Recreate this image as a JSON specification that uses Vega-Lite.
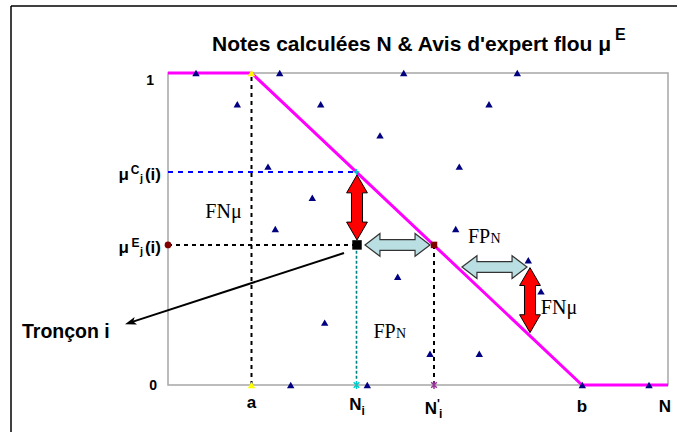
{
  "$schema": "https://vega.github.io/schema/vega-lite/v6.json",
  "width": 500,
  "height": 312,
  "autosize": {"type": "none"},
  "padding": {"left": 168, "top": 73, "right": 9, "bottom": 47},
  "background": "white",
  "config": {"view": {"stroke": "#a6a6a6", "strokeWidth": 1.5}, "font": "Liberation Sans"},
  "datasets": {
    "curve": [{"x": 0, "y": 1}, {"x": 8.35, "y": 1}, {"x": 41.4, "y": 0}, {"x": 50, "y": 0}],
    "tri": [
      {"x": 2.8, "y": 1}, {"x": 11.17, "y": 1}, {"x": 23.57, "y": 1}, {"x": 34.93, "y": 1},
      {"x": 6.93, "y": 0.9}, {"x": 15.27, "y": 0.9}, {"x": 32.1, "y": 0.9},
      {"x": 21.2, "y": 0.8},
      {"x": 10.0, "y": 0.7}, {"x": 29.13, "y": 0.7},
      {"x": 14.43, "y": 0.6},
      {"x": 10.73, "y": 0.5}, {"x": 28.77, "y": 0.5},
      {"x": 36.03, "y": 0.4},
      {"x": 22.97, "y": 0.347},
      {"x": 37.3, "y": 0.3},
      {"x": 15.67, "y": 0.2},
      {"x": 26.2, "y": 0.1}, {"x": 31.13, "y": 0.1},
      {"x": 12.27, "y": 0}, {"x": 19.93, "y": 0}, {"x": 41.43, "y": 0}, {"x": 48.1, "y": 0}
    ],
    "marks": [
      {"k": "yellow", "x": 8.35, "y": 1}, {"k": "yellow", "x": 8.35, "y": 0},
      {"k": "cyanstar", "x": 18.85, "y": 0}, {"k": "purplestar", "x": 26.6, "y": 0},
      {"k": "redcircle", "x": 0, "y": 0.449}, {"k": "redsquare", "x": 26.6, "y": 0.449},
      {"k": "blacksq", "x": 18.9, "y": 0.449}, {"k": "cyanplus", "x": 18.85, "y": 0.683},
      {"k": "head", "x": -3.73, "y": 0.2006}
    ],
    "segs": [
      {"k": "frame", "x": -15.7, "y": 1.2147, "x2": 52, "y2": 1.2147},
      {"k": "frame", "x": -15.7, "y": 1.2147, "x2": -15.7, "y2": -0.2},
      {"k": "blackdash", "x": 8.35, "y": 0, "x2": 8.35, "y2": 1},
      {"k": "blackdash", "x": 0, "y": 0.449, "x2": 18.9, "y2": 0.449},
      {"k": "blackdash", "x": 26.6, "y": 0, "x2": 26.6, "y2": 0.449},
      {"k": "bluedash", "x": 0, "y": 0.683, "x2": 18.85, "y2": 0.683},
      {"k": "tealdash", "x": 18.85, "y": 0.02, "x2": 18.85, "y2": 0.449},
      {"k": "pointer", "x": 17.6, "y": 0.423, "x2": -3.73, "y2": 0.2006}
    ],
    "arrows": [
      {"k": "red", "x": 18.9, "y": 0.569}, {"k": "red", "x": 36.2, "y": 0.272},
      {"k": "blue", "x": 22.95, "y": 0.449}, {"k": "blue", "x": 32.65, "y": 0.378}
    ],
    "texts": [
      {"k": "title", "x": 4.4, "y": 1.0705, "t": "Notes calculées N & Avis d'expert flou μ"},
      {"k": "titlesup", "x": 44.7, "y": 1.1058, "t": "E"},
      {"k": "one", "x": 0, "y": 1, "t": "1"},
      {"k": "zero", "x": 0, "y": 0, "t": "0"},
      {"k": "ymain", "x": 0, "y": 0.683, "t": "(i)"},
      {"k": "ymu", "x": 0, "y": 0.683, "t": "μ"},
      {"k": "ysup", "x": 0, "y": 0.683, "t": "C"},
      {"k": "ysub", "x": 0, "y": 0.683, "t": "j"},
      {"k": "ymain", "x": 0, "y": 0.449, "t": "(i)"},
      {"k": "ymu", "x": 0, "y": 0.449, "t": "μ"},
      {"k": "ysup", "x": 0, "y": 0.449, "t": "E"},
      {"k": "ysub", "x": 0, "y": 0.449, "t": "j"},
      {"k": "xa", "x": 8.35, "y": 0, "t": "a"},
      {"k": "xb", "x": 41.4, "y": 0, "t": "b"},
      {"k": "xb", "x": 49.7, "y": 0, "t": "N"},
      {"k": "xNi", "x": 18.85, "y": 0, "t": "N"},
      {"k": "xNisub", "x": 18.85, "y": 0, "t": "i"},
      {"k": "xNpi", "x": 26.6, "y": 0, "t": "N"},
      {"k": "xNpiprime", "x": 26.6, "y": 0, "t": "'"},
      {"k": "xNpisub", "x": 26.6, "y": 0, "t": "i"},
      {"k": "fn", "x": 5.55, "y": 0.535, "t": "FNμ"},
      {"k": "fn", "x": 39.1, "y": 0.228, "t": "FNμ"},
      {"k": "fp", "x": 30.0, "y": 0.455, "t": "FP"},
      {"k": "fpn", "x": 30.0, "y": 0.455, "t": "N"},
      {"k": "fp", "x": 20.55, "y": 0.151, "t": "FP"},
      {"k": "fpn", "x": 20.55, "y": 0.151, "t": "N"},
      {"k": "tron", "x": -14.6, "y": 0.150, "t": "Tronçon i"}
    ]
  },
  "encoding": {
    "x": {"field": "x", "type": "quantitative", "scale": {"domain": [0, 50], "nice": false, "zero": false}, "axis": null},
    "y": {"field": "y", "type": "quantitative", "scale": {"domain": [0, 1], "nice": false, "zero": false}, "axis": null}
  },
  "layer": [
    {"data": {"name": "segs"}, "transform": [{"filter": "datum.k == 'frame'"}],
     "mark": {"type": "rule", "stroke": "#000000", "strokeWidth": 1.5},
     "encoding": {"x2": {"field": "x2"}, "y2": {"field": "y2"}}},
    {"data": {"name": "segs"}, "transform": [{"filter": "datum.k == 'blackdash'"}],
     "mark": {"type": "rule", "stroke": "#000000", "strokeWidth": 2, "strokeDash": [4, 4]},
     "encoding": {"x2": {"field": "x2"}, "y2": {"field": "y2"}}},
    {"data": {"name": "segs"}, "transform": [{"filter": "datum.k == 'bluedash'"}],
     "mark": {"type": "rule", "stroke": "#0000ff", "strokeWidth": 2, "strokeDash": [5, 5]},
     "encoding": {"x2": {"field": "x2"}, "y2": {"field": "y2"}}},
    {"data": {"name": "segs"}, "transform": [{"filter": "datum.k == 'tealdash'"}],
     "mark": {"type": "rule", "stroke": "#008080", "strokeWidth": 1.6, "strokeDash": [3, 2]},
     "encoding": {"x2": {"field": "x2"}, "y2": {"field": "y2"}}},
    {"data": {"name": "curve"},
     "mark": {"type": "line", "stroke": "#ff00ff", "strokeWidth": 3}},
    {"data": {"name": "tri"},
     "mark": {"type": "point", "shape": "triangle-up", "size": 55, "filled": true, "fill": "#000080", "stroke": null, "opacity": 1}},
    {"data": {"name": "marks"}, "transform": [{"filter": "datum.k == 'yellow'"}],
     "mark": {"type": "point", "shape": "triangle-up", "size": 55, "filled": true, "fill": "#ffff00", "stroke": null, "opacity": 1}},
    {"data": {"name": "marks"}, "transform": [{"filter": "datum.k == 'cyanstar'"}],
     "mark": {"type": "point", "shape": "M-0.7,-0.7L0.7,0.7M-0.7,0.7L0.7,-0.7M0,-1L0,1", "size": 64, "filled": false, "fill": null, "stroke": "#00cccc", "strokeWidth": 1.5, "opacity": 1}},
    {"data": {"name": "marks"}, "transform": [{"filter": "datum.k == 'purplestar'"}],
     "mark": {"type": "point", "shape": "M-0.7,-0.7L0.7,0.7M-0.7,0.7L0.7,-0.7M0,-1L0,1", "size": 64, "filled": false, "fill": null, "stroke": "#993399", "strokeWidth": 1.5, "opacity": 1}},
    {"data": {"name": "marks"}, "transform": [{"filter": "datum.k == 'cyanplus'"}],
     "mark": {"type": "point", "shape": "M-1,0L1,0M0,-1L0,1", "size": 36, "filled": false, "fill": null, "stroke": "#00cccc", "strokeWidth": 1.2, "opacity": 1}},
    {"data": {"name": "marks"}, "transform": [{"filter": "datum.k == 'redcircle'"}],
     "mark": {"type": "point", "shape": "circle", "size": 45, "filled": true, "fill": "#800000", "stroke": null, "opacity": 1}},
    {"data": {"name": "marks"}, "transform": [{"filter": "datum.k == 'redsquare'"}],
     "mark": {"type": "point", "shape": "square", "size": 42, "filled": true, "fill": "#800000", "stroke": null, "opacity": 1}},
    {"data": {"name": "segs"}, "transform": [{"filter": "datum.k == 'pointer'"}],
     "mark": {"type": "rule", "stroke": "#000000", "strokeWidth": 2},
     "encoding": {"x2": {"field": "x2"}, "y2": {"field": "y2"}}},
    {"data": {"name": "marks"}, "transform": [{"filter": "datum.k == 'head'"}],
     "mark": {"type": "point", "shape": "M0,-1L0.65,0.9L0,0.45L-0.65,0.9Z", "size": 144, "angle": 252, "filled": true, "fill": "#000000", "stroke": null, "opacity": 1}},
    {"data": {"name": "arrows"}, "transform": [{"filter": "datum.k == 'red'"}],
     "mark": {"type": "point", "shape": "M0,-1L0.32,-0.45L0.17,-0.45L0.17,0.45L0.32,0.45L0,1L-0.32,0.45L-0.17,0.45L-0.17,-0.45L-0.32,-0.45Z", "size": 4225, "filled": true, "fill": "#ff0000", "stroke": "#000000", "strokeWidth": 1, "opacity": 1}},
    {"data": {"name": "arrows"}, "transform": [{"filter": "datum.k == 'blue'"}],
     "mark": {"type": "point", "shape": "M-1,0L-0.54,-0.35L-0.54,-0.165L0.54,-0.165L0.54,-0.35L1,0L0.54,0.35L0.54,0.165L-0.54,0.165L-0.54,0.35Z", "size": 4225, "filled": true, "fill": "#b9dfe3", "stroke": "#333333", "strokeWidth": 1.2, "opacity": 1}},
    {"data": {"name": "marks"}, "transform": [{"filter": "datum.k == 'blacksq'"}],
     "mark": {"type": "point", "shape": "square", "size": 90, "filled": true, "fill": "#000000", "stroke": null, "opacity": 1}},
    {"data": {"name": "texts"}, "transform": [{"filter": "datum.k == 'title'"}],
     "mark": {"type": "text", "align": "left", "baseline": "alphabetic", "fontSize": 21, "fontWeight": "bold", "fill": "#000000"},
     "encoding": {"text": {"field": "t"}}},
    {"data": {"name": "texts"}, "transform": [{"filter": "datum.k == 'titlesup'"}],
     "mark": {"type": "text", "align": "left", "baseline": "alphabetic", "fontSize": 16, "fontWeight": "bold", "fill": "#000000"},
     "encoding": {"text": {"field": "t"}}},
    {"data": {"name": "texts"}, "transform": [{"filter": "datum.k == 'one'"}],
     "mark": {"type": "text", "align": "right", "baseline": "alphabetic", "dx": -14, "dy": 12, "fontSize": 14, "fontWeight": "bold", "fill": "#000000"},
     "encoding": {"text": {"field": "t"}}},
    {"data": {"name": "texts"}, "transform": [{"filter": "datum.k == 'zero'"}],
     "mark": {"type": "text", "align": "right", "baseline": "alphabetic", "dx": -11, "dy": 4.5, "fontSize": 14, "fontWeight": "bold", "fill": "#000000"},
     "encoding": {"text": {"field": "t"}}},
    {"data": {"name": "texts"}, "transform": [{"filter": "datum.k == 'ymain'"}],
     "mark": {"type": "text", "align": "right", "baseline": "alphabetic", "dx": -7, "dy": 8, "fontSize": 17, "fontWeight": "bold", "fill": "#000000"},
     "encoding": {"text": {"field": "t"}}},
    {"data": {"name": "texts"}, "transform": [{"filter": "datum.k == 'ymu'"}],
     "mark": {"type": "text", "align": "right", "baseline": "alphabetic", "dx": -39, "dy": 8, "fontSize": 17, "fontWeight": "bold", "fill": "#000000"},
     "encoding": {"text": {"field": "t"}}},
    {"data": {"name": "texts"}, "transform": [{"filter": "datum.k == 'ysup'"}],
     "mark": {"type": "text", "align": "right", "baseline": "alphabetic", "dx": -28.5, "dy": 2, "fontSize": 12, "fontWeight": "bold", "fill": "#000000"},
     "encoding": {"text": {"field": "t"}}},
    {"data": {"name": "texts"}, "transform": [{"filter": "datum.k == 'ysub'"}],
     "mark": {"type": "text", "align": "right", "baseline": "alphabetic", "dx": -25, "dy": 10, "fontSize": 11, "fontWeight": "bold", "fill": "#000000"},
     "encoding": {"text": {"field": "t"}}},
    {"data": {"name": "texts"}, "transform": [{"filter": "datum.k == 'xa'"}],
     "mark": {"type": "text", "align": "center", "baseline": "alphabetic", "dy": 23, "fontSize": 17, "fontWeight": "bold", "fill": "#000000"},
     "encoding": {"text": {"field": "t"}}},
    {"data": {"name": "texts"}, "transform": [{"filter": "datum.k == 'xb'"}],
     "mark": {"type": "text", "align": "center", "baseline": "alphabetic", "dy": 27, "fontSize": 17, "fontWeight": "bold", "fill": "#000000"},
     "encoding": {"text": {"field": "t"}}},
    {"data": {"name": "texts"}, "transform": [{"filter": "datum.k == 'xNi'"}],
     "mark": {"type": "text", "align": "right", "baseline": "alphabetic", "dx": 5, "dy": 25, "fontSize": 17, "fontWeight": "bold", "fill": "#000000"},
     "encoding": {"text": {"field": "t"}}},
    {"data": {"name": "texts"}, "transform": [{"filter": "datum.k == 'xNisub'"}],
     "mark": {"type": "text", "align": "left", "baseline": "alphabetic", "dx": 5, "dy": 30, "fontSize": 12, "fontWeight": "bold", "fill": "#000000"},
     "encoding": {"text": {"field": "t"}}},
    {"data": {"name": "texts"}, "transform": [{"filter": "datum.k == 'xNpi'"}],
     "mark": {"type": "text", "align": "right", "baseline": "alphabetic", "dx": 3, "dy": 29, "fontSize": 17, "fontWeight": "bold", "fill": "#000000"},
     "encoding": {"text": {"field": "t"}}},
    {"data": {"name": "texts"}, "transform": [{"filter": "datum.k == 'xNpiprime'"}],
     "mark": {"type": "text", "align": "left", "baseline": "alphabetic", "dx": 3, "dy": 23, "fontSize": 12, "fontWeight": "bold", "fill": "#000000"},
     "encoding": {"text": {"field": "t"}}},
    {"data": {"name": "texts"}, "transform": [{"filter": "datum.k == 'xNpisub'"}],
     "mark": {"type": "text", "align": "left", "baseline": "alphabetic", "dx": 5, "dy": 33, "fontSize": 12, "fontWeight": "bold", "fill": "#000000"},
     "encoding": {"text": {"field": "t"}}},
    {"data": {"name": "texts"}, "transform": [{"filter": "datum.k == 'fn'"}],
     "mark": {"type": "text", "align": "center", "baseline": "alphabetic", "fontSize": 20, "font": "Liberation Serif", "fill": "#000000"},
     "encoding": {"text": {"field": "t"}}},
    {"data": {"name": "texts"}, "transform": [{"filter": "datum.k == 'fp'"}],
     "mark": {"type": "text", "align": "left", "baseline": "alphabetic", "fontSize": 20, "font": "Liberation Serif", "fill": "#000000"},
     "encoding": {"text": {"field": "t"}}},
    {"data": {"name": "texts"}, "transform": [{"filter": "datum.k == 'fpn'"}],
     "mark": {"type": "text", "align": "left", "baseline": "alphabetic", "dx": 22.5, "fontSize": 14, "font": "Liberation Serif", "fill": "#000000"},
     "encoding": {"text": {"field": "t"}}},
    {"data": {"name": "texts"}, "transform": [{"filter": "datum.k == 'tron'"}],
     "mark": {"type": "text", "align": "left", "baseline": "alphabetic", "fontSize": 19.5, "fontWeight": "bold", "fill": "#000000"},
     "encoding": {"text": {"field": "t"}}}
  ]
}
